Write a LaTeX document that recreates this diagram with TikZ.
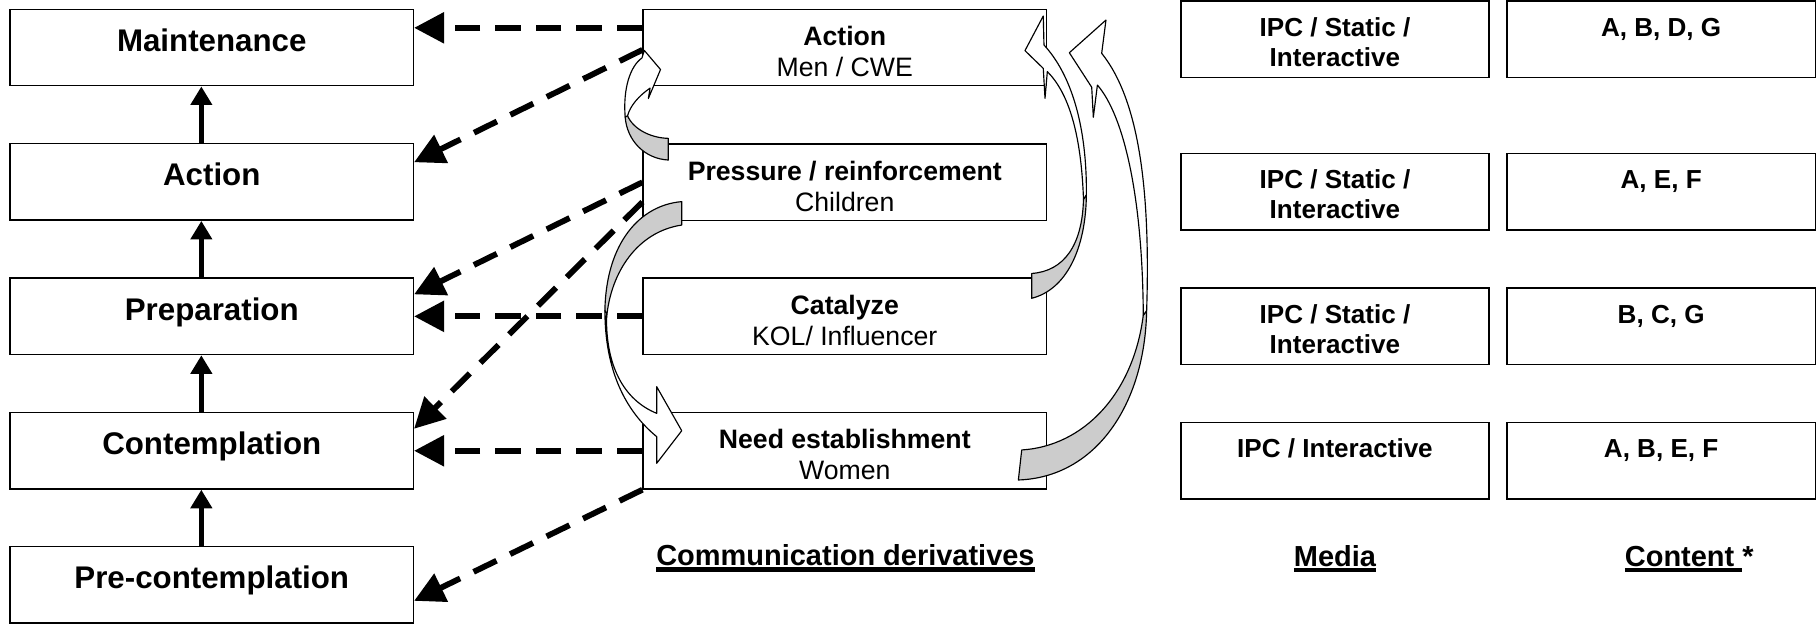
\documentclass[tikz,border=0pt]{standalone}
\usepackage{fontspec}
\setmainfont{Liberation Sans}
\usetikzlibrary{arrows.meta}

% thick underline used by the column headings
\newsavebox\ulbox
\newcommand{\thickul}[1]{\sbox\ulbox{#1}\rlap{\rule[-5pt]{\wd\ulbox}{4pt}}\usebox\ulbox}

\tikzset{
  stage/.style={draw, line width=1.2pt, minimum width=348pt, minimum height=66pt, inner sep=0pt,
    font=\fontsize{27}{32}\selectfont\bfseries, text height=20pt, text depth=13.6pt},
  deriv/.style={draw, line width=1.2pt, minimum width=348pt, minimum height=66pt, inner sep=0pt,
    align=center, font=\fontsize{23}{26.5}\selectfont, text height=52pt, text depth=2.2pt},
  cell/.style={draw, line width=1.2pt, minimum width=266pt, minimum height=66pt, inner sep=0pt,
    align=center, font=\fontsize{22.5}{26}\selectfont\bfseries, text height=48pt, text depth=1.2pt},
  oneline/.style={text height=16.5pt, text depth=22pt},
  heading/.style={font=\fontsize{25}{30}\selectfont\bfseries, anchor=base, inner sep=0pt},
  stepup/.style={-{Triangle[length=16pt,width=18pt]}, line width=4pt},
  influence/.style={-{Triangle[length=26pt,width=26pt]}, line width=5pt, dash pattern=on 22pt off 13pt},
  bandfront/.style={draw, line width=1pt, fill=white, line join=round},
  bandback/.style={draw, line width=1pt, fill=black!20, line join=round},
}

\begin{document}
\begin{tikzpicture}[x=1pt,y=-1pt]
  \useasboundingbox (0,0) rectangle (1568,538);

  % ---------------- Stages (left) ----------------
  \node[stage] (maint)   at (182.75,41)    {Maintenance};
  \node[stage] (act)     at (182.75,157)   {Action};
  \node[stage] (prep)    at (182.75,273)   {Preparation};
  \node[stage] (contemp) at (182.75,389)   {Contemplation};
  \node[stage] (precon)  at (182.75,504.5) {Pre-contemplation};

  % ---------------- Derivatives (middle) ----------------
  \node[deriv] (cAction)   at (729,41)    {\textbf{Action}\\Men / CWE};
  \node[deriv] (cPressure) at (729,157.3) {\textbf{Pressure / reinforcement}\\Children};
  \node[deriv] (cCatalyze) at (729,273)   {\textbf{Catalyze}\\KOL/ Influencer};
  \node[deriv] (cNeed)     at (729,389)   {\textbf{Need establishment}\\Women};

  % ---------------- Media and content (right) ----------------
  \node[cell] (media1) at (1152,34)    {IPC / Static /\\Interactive};
  \node[cell] (media2) at (1152,165.5) {IPC / Static /\\Interactive};
  \node[cell] (media3) at (1152,281.5) {IPC / Static /\\Interactive};
  \node[cell, oneline] (media4) at (1152,397.5) {IPC / Interactive};
  \node[cell, oneline] (content1) at (1433.5,34)    {A, B, D, G};
  \node[cell, oneline] (content2) at (1433.5,165.5) {A, E, F};
  \node[cell, oneline] (content3) at (1433.5,281.5) {B, C, G};
  \node[cell, oneline] (content4) at (1433.5,397.5) {A, B, E, F};

  % Headings
  \node[heading] (derivLabel) at (729.6,488.4) {\thickul{Communication derivatives}};
  \node[heading] (mediaLabel) at (1152,489) {\thickul{Media}};
  \node[heading, anchor=base west] (contentLabel) at (1402,489) {\thickul{Content }*};

  % Progression between stages
  \draw[stepup] ([xshift=-9pt]act.north) -- ([xshift=-9pt]maint.south);
  \draw[stepup] ([xshift=-9pt]prep.north) -- ([xshift=-9pt]act.south);
  \draw[stepup] ([xshift=-9pt]contemp.north) -- ([xshift=-9pt]prep.south);
  \draw[stepup] ([xshift=-9pt]precon.north) -- ([xshift=-9pt]contemp.south);

  % Influence of the derivatives on the stages
  \draw[influence] ([yshift=17pt]cAction.west) -- ([yshift=17pt]maint.east);
  \draw[influence] ([yshift=-2pt]cAction.west) -- ([yshift=17pt]act.east);
  \draw[influence] (cPressure.west) -- ([yshift=19pt]prep.east);
  \draw[influence] ([yshift=-17pt]cPressure.west) -- ([yshift=19pt]contemp.east);
  \draw[influence] (cCatalyze.west) -- (prep.east);
  \draw[influence] (cNeed.west) -- (contemp.east);
  \draw[influence] (cNeed.south west) -- ([yshift=-14pt]precon.east);

  % Curved arrows: Pressure -> Action
  \draw[bandback] (576.7,119.4) .. controls (560,119) and (544,110) .. (540.5,97)
    -- (539.5,101) .. controls (541,121) and (556,137) .. (576.7,138.1) -- cycle;
  \draw[bandfront] (539.5,101) .. controls (537.5,76) and (544,57) .. (554,50)
    -- (556,43.5) -- (570,60) -- (559.5,85) -- (561,76)
    .. controls (551,83) and (544,91) .. (541.5,100) -- cycle;

  % Pressure -> Need
  \draw[bandback] (588.3,174) .. controls (552,177) and (523,210) .. (522,268)
    -- (523.5,274) .. controls (527,235) and (550,200) .. (588.3,194.2) -- cycle;
  \draw[bandfront] (522,268) .. controls (522,320) and (540,355) .. (566.7,376.8)
    -- (566.7,399.8) -- (588.3,371.7) -- (566.7,333.7) -- (566.7,356.7)
    .. controls (538,345) and (522,315) .. (523.5,270) -- cycle;

  % Catalyze -> Action
  \draw[bandback] (890.3,236) .. controls (918,234) and (934,212) .. (935,172)
    -- (937.5,168) .. controls (937,215) and (920,250) .. (890.3,257.4) -- cycle;
  \draw[bandfront] (937.5,168) .. controls (938,110) and (925,65) .. (900.9,38.8)
    -- (900.3,13.8) -- (884.5,43.7) -- (900.3,59) -- (901.8,84.9) -- (903.8,61.8)
    .. controls (922,80) and (933,115) .. (935,172) -- cycle;

  % Need -> Action
  \draw[bandback] (986.6,272) .. controls (978,340) and (935,385) .. (881.7,388.3)
    -- (878.8,414.2) .. controls (945,412) and (988,350) .. (989.5,268) -- cycle;
  \draw[bandfront] (989.5,268) .. controls (993,160) and (982,85) .. (950.7,46)
    -- (954.4,17.3) -- (922.8,45.5) -- (942.1,75.3) -- (943.5,101.2) -- (947,73.4)
    .. controls (970,100) and (986,170) .. (986.6,272) -- cycle;
\end{tikzpicture}
\end{document}
